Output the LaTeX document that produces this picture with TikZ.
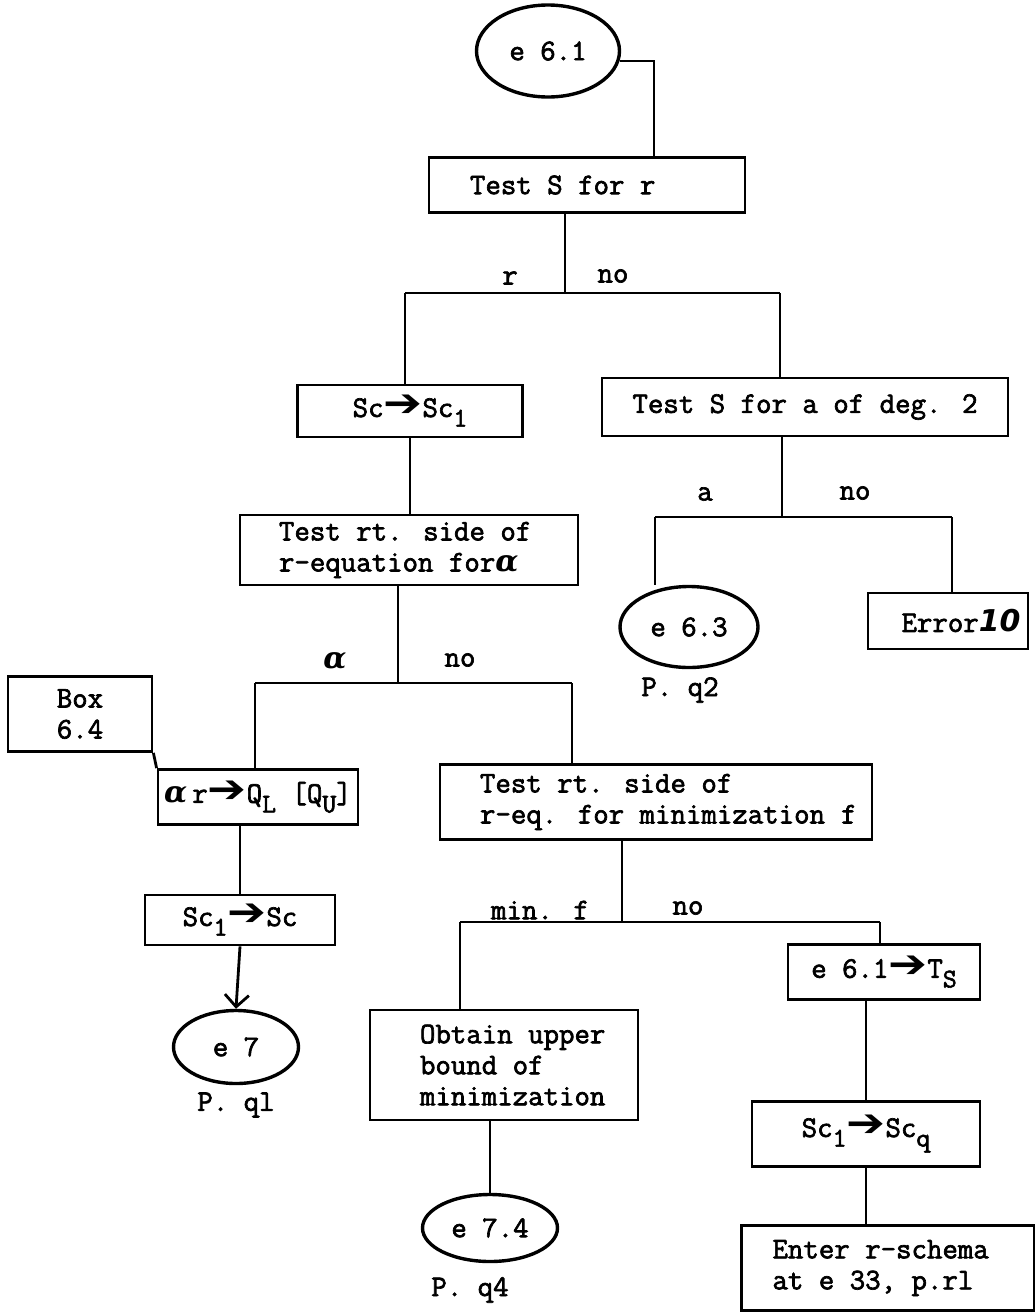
\documentclass[tikz,border=0pt]{standalone}
\usepackage{fontspec}
\newfontfamily\tw{Latin Modern Mono}[AutoFakeBold=2.2]
\newfontfamily\sym{DejaVu Sans}
\newfontfamily\grk{DejaVu Serif}
\usetikzlibrary{shapes.geometric,arrows.meta}

% typewriter-style lowered index, heavy arrow, alpha
\newcommand\lo[1]{\raisebox{-0.32em}{\fontsize{27}{27}\selectfont #1}}
\newcommand\harr{{\sym\scalebox{1.55}[1.3]{➔}}}
\newcommand\alp{{\grk\bfseries\itshape α}}
% keep the natural typewriter word spacing in fixed-width boxes
\newcommand\tsp{\spaceskip=0pt\xspaceskip=0pt\relax}

\begin{document}
\begin{tikzpicture}[x=1pt,y=-1pt,
  every node/.style={font=\tw\bfseries\fontsize{30}{31}\selectfont, text=black},
  box/.style={draw, line width=2.8pt, inner ysep=0pt},
  lbox/.style n args={3}{box, minimum height=#1, inner xsep=#2, text width=#3, align=left},
  cbox/.style 2 args={box, minimum width=#1, minimum height=#2, inner xsep=0pt, align=center},
  blob/.style={ellipse, draw, line width=3.4pt, inner sep=0pt},
  lbl/.style={inner sep=0pt},
  wire/.style={line width=2.8pt}]
\useasboundingbox (0,0) rectangle (1035,1312);

% ---- boxes and terminals ----
\node[blob, minimum width=143pt, minimum height=92pt] (e61) at (548,51) {e 6.1};
\node[lbox={55pt}{41pt}{234pt}] (tsr) at (587,185) {\tsp Test S for r};
\node[cbox={225pt}{52pt}] (sc) at (410,411) {Sc\harr Sc\lo{1}};
\node[cbox={406pt}{58pt}] (tsa) at (805,407) {Test S for a of deg. 2};
\node[lbox={70pt}{39pt}{260pt}] (trt) at (409,550) {\tsp Test rt. side of\\r-equation for\alp};
\node[blob, minimum width=138pt, minimum height=81pt] (e63) at (689,627) {e 6.3};
\node[lbl] (pq2) at (680,690) {P. q2};
\node[cbox={160pt}{56pt}] (err) at (948,621) {\hspace*{26pt}Error{\sym\bfseries\itshape 10}};
\node[cbox={144pt}{75pt}] (box64) at (80,714) {Box\\6.4};
\node[cbox={200pt}{55pt}] (ql) at (258,797) {\alp\,r\harr Q\lo{L} [Q\lo{U}]};
\node[lbox={75pt}{40pt}{352pt}] (tmin) at (656,802) {\tsp Test rt. side of\\\mbox{r-eq. for minimization\hspace{16pt}f}};
\node[cbox={190pt}{50pt}] (s1s) at (240,920) {Sc\lo{1}\harr Sc};
\node[blob, minimum width=125pt, minimum height=73pt] (e7) at (236,1047) {e 7};
\node[lbl] (pq1) at (236,1105) {P. ql};
\node[lbox={110pt}{50pt}{168pt}] (obt) at (504,1065) {\tsp\mbox{Obtain upper}\\\mbox{bound of}\\\mbox{minimization}};
\node[blob, minimum width=135pt, minimum height=67pt] (e74) at (490,1228) {e 7.4};
\node[lbl] (pq4) at (470,1290) {P. q4};
\node[cbox={192pt}{55pt}] (ets) at (884,972) {e 6.1\harr T\lo{S}};
\node[cbox={228pt}{65pt}] (ssq) at (866,1134) {Sc\lo{1}\harr Sc\lo{q}};
\node[lbox={85pt}{31pt}{231pt}] (ent) at (888,1268) {\tsp\mbox{Enter r-schema}\\\mbox{at e 33, p.rl}};

% ---- branch labels ----
\node[lbl] (l1a) at (510,278) {r};
\node[lbl] (l1b) at (613,276) {no};
\node[lbl] (l2a) at (705,494) {a};
\node[lbl] (l2b) at (855,493) {no};
\node[lbl] (l3a) at (335,661) {\alp};
\node[lbl] (l3b) at (460,660) {no};
\node[lbl] (l4a) at (540,910) {min. f};
\node[lbl] (l4b) at (688,908) {no};

% ---- branch junctions ----
\coordinate (j1) at (565,293); \coordinate (j1l) at (405,293); \coordinate (j1r) at (780,293);
\coordinate (j2) at (782,517); \coordinate (j2l) at (655,517); \coordinate (j2r) at (952,517);
\coordinate (j3) at (398,683); \coordinate (j3l) at (255,683); \coordinate (j3r) at (572,683);
\coordinate (j4) at (622,922); \coordinate (j4l) at (460,922); \coordinate (j4r) at (880,922);

% ---- connectors ----
\draw[wire] (e61.-8) -| ([xshift=67pt]tsr.north);

\draw[wire] (tsr.south -| j1) -- (j1);
\draw[wire] (j1l) -- (j1r);
\draw[wire] (j1l) -- (j1l |- sc.north);
\draw[wire] (j1r) -- (j1r |- tsa.north);

\draw[wire] (sc.south) -- (sc.south |- trt.north);

\draw[wire] (tsa.south -| j2) -- (j2);
\draw[wire] (j2l) -- (j2r);
\draw[wire] (j2l) -- (j2l |- e63.north);
\draw[wire] (j2r) -- (j2r |- err.north);

\draw[wire] (trt.south -| j3) -- (j3);
\draw[wire] (j3l) -- (j3r);
\draw[wire] (j3l) -- (j3l |- ql.north);
\draw[wire] (j3r) -- (j3r |- tmin.north);

\draw[wire] (box64.south east) -- (ql.north west);
\draw[wire] (s1s.north |- ql.south) -- (s1s.north);
\draw[wire, -{Straight Barb[length=12pt,width=24pt]}] (s1s.south) -- (e7.north);

\draw[wire] (tmin.south -| j4) -- (j4);
\draw[wire] (j4l) -- (j4r);
\draw[wire] (j4l) -- (j4l |- obt.north);
\draw[wire] (j4r) -- (j4r |- ets.north);

\draw[wire] (e74.north |- obt.south) -- (e74.north);
\draw[wire] (ssq.north |- ets.south) -- (ssq.north);
\draw[wire] (ssq.south) -- (ssq.south |- ent.north);
\end{tikzpicture}
\end{document}
